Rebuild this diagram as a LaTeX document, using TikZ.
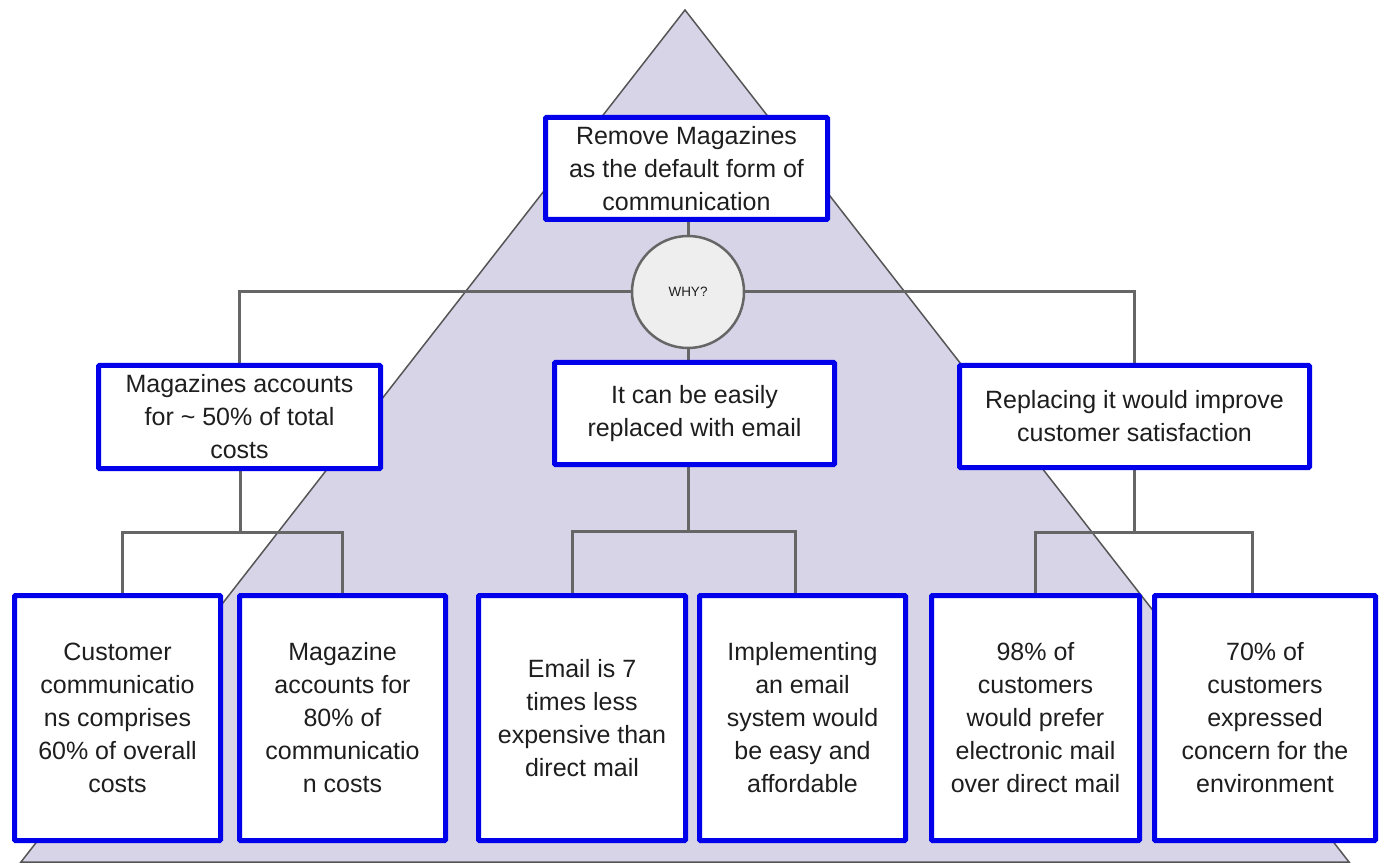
\documentclass[tikz,border=0pt]{standalone}
\usepackage{fontspec}
\setmainfont{Liberation Sans}
\definecolor{lilac}{RGB}{216,212,232}
\definecolor{triline}{RGB}{85,85,85}
\definecolor{conn}{RGB}{102,102,102}
\definecolor{boxblue}{RGB}{0,0,235}
\definecolor{txt}{RGB}{30,30,30}
\definecolor{whyfill}{RGB}{238,238,238}
\pgfdeclarelayer{tri}
\pgfdeclarelayer{lines}
\pgfsetlayers{tri,lines,main}
\begin{document}
\begin{tikzpicture}[x=1pt,y=-1pt,
  box/.style={draw=boxblue, line width=5pt, fill=white, align=center, inner sep=0pt,
    rounded corners=1pt, text=txt, font=\fontsize{25}{33}\selectfont},
  conline/.style={draw=conn, line width=3pt},
  whycircle/.style={circle, draw=conn, line width=2.5pt, fill=whyfill, inner sep=0pt,
    minimum size=112pt, text=txt, font=\fontsize{13.5}{16}\selectfont}]
\useasboundingbox (0,0) rectangle (1389,866);

% nodes
\node[box, minimum width=282pt, minimum height=102pt] (top) at (686.5,168.5)
  {Remove Magazines\\as the default form of\\communication};
\node[whycircle] (why) at (688,292) {WHY?};
\node[box, minimum width=282pt, minimum height=103pt] (m1) at (239.5,417)
  {Magazines accounts\\for \textasciitilde{} 50\% of total\\costs};
\node[box, minimum width=280pt, minimum height=102pt] (m2) at (694.5,413.5)
  {It can be easily\\replaced with email};
\node[box, minimum width=350pt, minimum height=102pt] (m3) at (1134.5,416.5)
  {Replacing it would improve\\customer satisfaction};

\node[box, minimum width=206pt, minimum height=245pt] (b1) at (117.5,718)
  {Customer\\communicatio\\ns comprises\\60\% of overall\\costs};
\node[box, minimum width=206pt, minimum height=245pt] (b2) at (342.5,718)
  {Magazine\\accounts for\\80\% of\\communicatio\\n costs};
\node[box, minimum width=207pt, minimum height=245pt] (b3) at (582,718)
  {Email is 7\\times less\\expensive than\\direct mail};
\node[box, minimum width=206pt, minimum height=245pt] (b4) at (802.5,718)
  {Implementing\\an email\\system would\\be easy and\\affordable};
\node[box, minimum width=208pt, minimum height=245pt] (b5) at (1035.5,718)
  {98\% of\\customers\\would prefer\\electronic mail\\over direct mail};
\node[box, minimum width=221pt, minimum height=245pt] (b6) at (1265,718)
  {70\% of\\customers\\expressed\\concern for the\\environment};

% junction coordinates
\coordinate (j1) at (240,532);
\coordinate (j2) at (688,531);
\coordinate (j3) at (1134,532);

\begin{pgfonlayer}{tri}
\filldraw[fill=lilac, draw=triline, line width=1.5pt] (685,10) -- (1349,862) -- (21,862) -- cycle;
\end{pgfonlayer}

\begin{pgfonlayer}{lines}
\draw[conline] (top.south -| why.north) -- (why.north);
\draw[conline] (why.west) -| (m1.north);
\draw[conline] (why.east) -| (m3.north);
\draw[conline] (why.south) -- (why.south |- m2.north);

\draw[conline] (m1.south -| j1) -- (j1);
\draw[conline] ([xshift=4.5pt]b1.north) |- (j1) -| (b2.north);
\draw[conline] (m2.south -| j2) -- (j2);
\draw[conline] ([xshift=-10pt]b3.north) |- (j2) -| ([xshift=-7.5pt]b4.north);
\draw[conline] (m3.south -| j3) -- (j3);
\draw[conline] (b5.north) |- (j3) -| ([xshift=-13pt]b6.north);
\end{pgfonlayer}
\end{tikzpicture}
\end{document}
